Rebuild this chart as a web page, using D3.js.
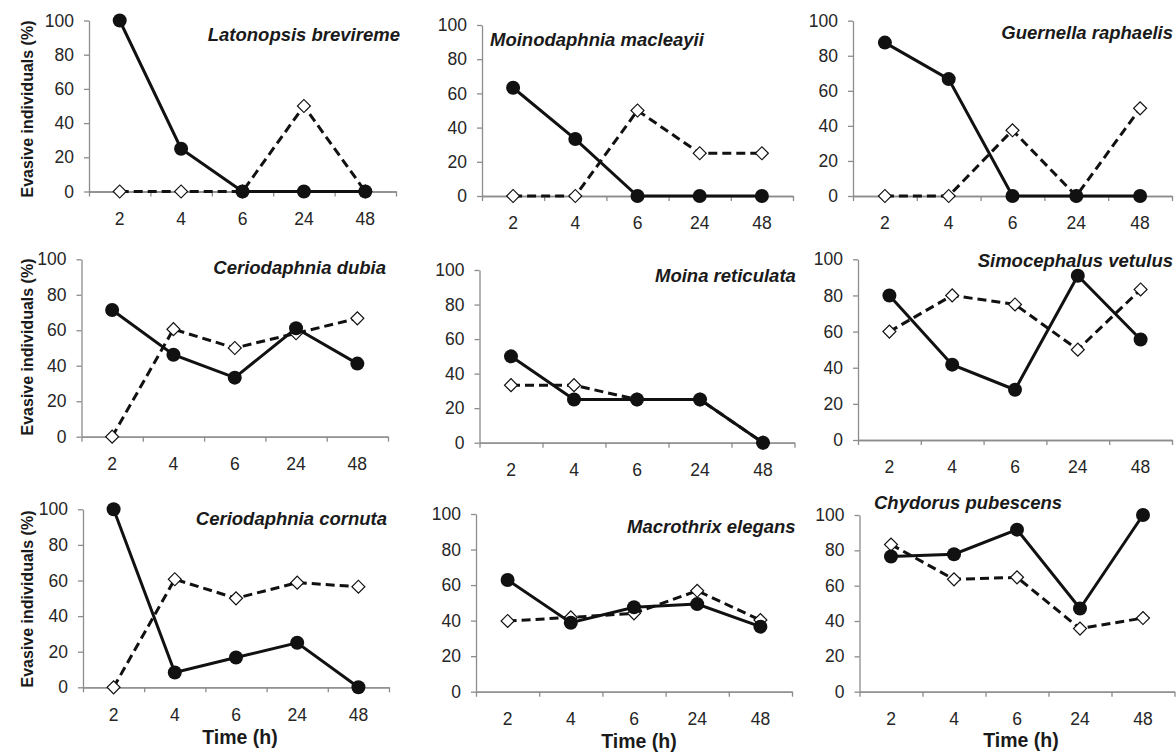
<!DOCTYPE html>
<html>
<head>
<meta charset="utf-8">
<script src="https://cdn.jsdelivr.net/npm/d3@7"></script>
<style>
  body { margin: 0; background: #fff; }
  svg { font-family: Arial, 'Liberation Sans', sans-serif; }
  .axis path, .axis line { stroke: #8c8c8c; stroke-width: 1.3; }
  .axis text { fill: #262626; font-size: 17.5px; }
  .title { font-size: 18.5px; font-weight: bold; font-style: italic; fill: #1a1a1a; }
  .ylabel { font-size: 16px; font-weight: bold; fill: #1a1a1a; }
  .xlabel { font-size: 19.5px; font-weight: bold; fill: #1a1a1a; }
</style>
</head>
<body>
<svg width="1176" height="752"></svg>
<script>
// **** data ****
var times = ['2', '4', '6', '24', '48'];
var yTicks = [0, 20, 40, 60, 80, 100];

var species = ['Latonopsis brevireme', 'Moinodaphnia macleayii', 'Guernella raphaelis',
               'Ceriodaphnia dubia', 'Moina reticulata', 'Simocephalus vetulus',
               'Ceriodaphnia cornuta', 'Macrothrix elegans', 'Chydorus pubescens'];

// solid line, filled circles
var solidSeries = [
    [100, 25, 0, 0, 0],
    [63.3, 33.3, 0, 0, 0],
    [87.5, 66.7, 0, 0, 0],
    [71.4, 46.2, 33.3, 61.1, 41.2],
    [50, 25, 25, 25, 0],
    [80, 41.7, 27.8, 90.9, 55.6],
    [100, 8.3, 16.7, 25, 0],
    [62.9, 38.8, 47.5, 49.3, 36.6],
    [76.5, 77.8, 91.7, 47.1, 100]
];

// dashed line, open diamonds
var dashedSeries = [
    [0, 0, 0, 50, 0],
    [0, 0, 50, 25, 25],
    [0, 0, 37.5, 0, 50],
    [0, 60.6, 50, 58.3, 66.7],
    [33.3, 33.3, 25, 25, 0],
    [60, 80, 75, 50, 83.3],
    [0, 60.7, 50, 58.8, 56.5],
    [39.8, 41.8, 44.1, 56.8, 40.3],
    [83.3, 63.6, 64.7, 35.7, 41.7]
];

// **** panel layout (pixels) ****
var panels = [
    {left: 89,  right: 396,  top: 20.5, bottom: 191.5, tx: 400,  ty: 41,  anchor: 'end'},
    {left: 482, right: 793,  top: 25,   bottom: 196,   tx: 490,  ty: 46,  anchor: 'start'},
    {left: 853, right: 1172, top: 20.7, bottom: 196,   tx: 1173, ty: 39,  anchor: 'end'},
    {left: 81.5, right: 388, top: 259.3, bottom: 436.7, tx: 386, ty: 274, anchor: 'end'},
    {left: 479.5, right: 794.5, top: 270, bottom: 442.7, tx: 655, ty: 282, anchor: 'start'},
    {left: 858, right: 1172, top: 259.3, bottom: 440,  tx: 1173, ty: 267, anchor: 'end'},
    {left: 83,  right: 389,  top: 509.3, bottom: 687.3, tx: 387, ty: 525, anchor: 'end'},
    {left: 476, right: 792,  top: 514,  bottom: 691.7, tx: 627,  ty: 533, anchor: 'start'},
    {left: 859.5, right: 1174.5, top: 515, bottom: 691.7, tx: 874, ty: 509, anchor: 'start'}
];

var yLabels = [{x: 33, y: 109}, {x: 33, y: 347}, {x: 33, y: 599}];
var xLabels = [{x: 240, y: 744}, {x: 639, y: 748}, {x: 1021, y: 747}];

var svg = d3.select('svg');

let drawPanel = (p, i) => {
    var g = svg.append('g');

    var x = d3.scaleBand().domain(times).range([p.left, p.right]);
    var xEdge = d3.scaleLinear().domain([0, times.length]).range([p.left, p.right]);
    var y = d3.scaleLinear().domain([0, 100]).range([p.bottom, p.top]);

    g.append('g').attr('class', 'axis')
        .attr('transform', 'translate(' + p.left + ',0)')
        .call(d3.axisLeft(y).tickValues(yTicks).tickSizeInner(5).tickSizeOuter(0).tickPadding(10));

    // category boundary ticks
    g.append('g').attr('class', 'axis')
        .attr('transform', 'translate(0,' + p.bottom + ')')
        .call(d3.axisBottom(xEdge).tickValues(d3.range(times.length + 1))
            .tickFormat('').tickSizeInner(5).tickSizeOuter(0));

    g.append('g').attr('class', 'axis')
        .attr('transform', 'translate(0,' + p.bottom + ')')
        .call(d3.axisBottom(x).tickSize(0).tickPadding(21));

    var line = d3.line()
        .x(function(d, j) { return x(times[j]) + x.bandwidth() / 2; })
        .y(function(d) { return y(d); });

    // dashed series first, solid drawn on top
    g.append('path')
        .datum(dashedSeries[i])
        .attr('d', line)
        .attr('fill', 'none')
        .attr('stroke', '#111')
        .attr('stroke-width', 3)
        .attr('stroke-dasharray', '9,5');

    g.append('g')
        .selectAll('path')
        .data(dashedSeries[i])
        .enter()
        .append('path')
            .attr('d', d3.symbol(d3.symbolSquare, 84))
            .attr('transform', function(d, j) {
                return 'translate(' + (x(times[j]) + x.bandwidth() / 2) + ',' + y(d) + ') rotate(45)';
            })
            .attr('fill', '#fff')
            .attr('stroke', '#111')
            .attr('stroke-width', 1.2);

    g.append('path')
        .datum(solidSeries[i])
        .attr('d', line)
        .attr('fill', 'none')
        .attr('stroke', '#111')
        .attr('stroke-width', 3);

    g.append('g')
        .selectAll('circle')
        .data(solidSeries[i])
        .enter()
        .append('circle')
            .attr('cx', function(d, j) { return x(times[j]) + x.bandwidth() / 2; })
            .attr('cy', function(d) { return y(d); })
            .attr('r', 7)
            .attr('fill', '#111');

    g.append('text')
        .attr('class', 'title')
        .attr('x', p.tx)
        .attr('y', p.ty)
        .attr('text-anchor', p.anchor)
        .text(species[i]);
}

panels.forEach(drawPanel);

yLabels.forEach(function(l) {
    svg.append('text')
        .attr('class', 'ylabel')
        .attr('text-anchor', 'middle')
        .attr('transform', 'translate(' + l.x + ',' + l.y + ') rotate(-90)')
        .text('Evasive individuals (%)');
});

xLabels.forEach(function(l) {
    svg.append('text')
        .attr('class', 'xlabel')
        .attr('text-anchor', 'middle')
        .attr('x', l.x)
        .attr('y', l.y)
        .text('Time (h)');
});
</script>
</body>
</html>
